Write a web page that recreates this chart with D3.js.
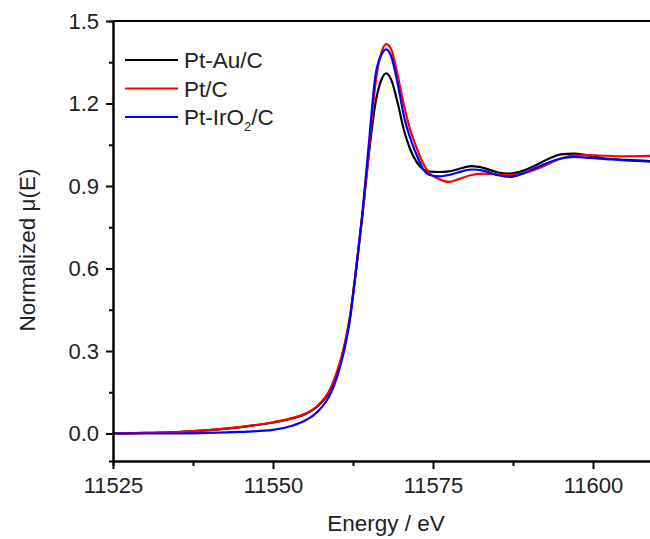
<!DOCTYPE html>
<html>
<head>
<meta charset="utf-8">
<script src="https://cdn.jsdelivr.net/npm/d3@7"></script>
<style>
    body { margin: 0; background: #fff; }
    svg { display: block; font-family: "Liberation Sans", Arial, sans-serif; }
    .axis path, .axis line { stroke: #000; stroke-width: 2; }
    .axis text { font-size: 22px; fill: #222; }
</style>
</head>
<body>
<div class="container"></div>
<script>
const WIDTH = 650,
    HEIGHT = 539,
    LEFT = 113,
    TOP = 21,
    BOTTOM = 461,
    RIGHT = 657;

// energy grid (eV) and normalized mu(E) per sample
const energy = [11525, 11530, 11535, 11540, 11545, 11550, 11553, 11555, 11557, 11559,
    11560, 11561, 11562, 11563, 11564, 11565, 11566, 11567, 11567.7, 11568.5,
    11569.5, 11570.5, 11571.5, 11572.5, 11573.5, 11574.5, 11576, 11577.5, 11579, 11581,
    11583, 11585, 11587, 11589, 11591, 11593, 11595, 11597, 11599, 11602, 11605, 11610];

const ptAuC = [0.0, 0.002, 0.005, 0.012, 0.023, 0.04, 0.055, 0.07, 0.1, 0.16,
    0.22, 0.30, 0.42, 0.60, 0.80, 1.02, 1.20, 1.29, 1.31, 1.285,
    1.20, 1.10, 1.03, 0.985, 0.96, 0.952, 0.951, 0.953, 0.962, 0.972,
    0.965, 0.95, 0.945, 0.955, 0.975, 0.998, 1.015, 1.018, 1.012, 1.0, 0.995, 0.99];

const ptC = [0.0, 0.002, 0.005, 0.012, 0.024, 0.041, 0.056, 0.072, 0.102, 0.165,
    0.225, 0.305, 0.42, 0.60, 0.80, 1.03, 1.27, 1.39, 1.416, 1.395,
    1.30, 1.19, 1.10, 1.035, 0.98, 0.945, 0.925, 0.915, 0.925, 0.94,
    0.945, 0.942, 0.94, 0.945, 0.96, 0.98, 1.0, 1.011, 1.012, 1.01, 1.008, 1.01];

const ptIrO2C = [0.0, 0.0, 0.0, 0.002, 0.006, 0.013, 0.028, 0.047, 0.08, 0.145,
    0.205, 0.29, 0.41, 0.60, 0.81, 1.06, 1.30, 1.38, 1.397, 1.37,
    1.27, 1.15, 1.07, 1.01, 0.96, 0.94, 0.935, 0.94, 0.95, 0.96,
    0.955, 0.94, 0.933, 0.945, 0.965, 0.985, 1.0, 1.006, 1.003, 0.998, 0.993, 0.988];

const seriesNames = ['Pt-Au/C', 'Pt/C', 'Pt-IrO2/C'];
const seriesValues = [ptAuC, ptC, ptIrO2C];
const seriesColors = ['#000000', '#ff0000', '#0000ff'];

const xTicks = [11525, 11550, 11575, 11600];
const xMinorTicks = [11537.5, 11562.5, 11587.5];
const yTicks = [0.0, 0.3, 0.6, 0.9, 1.2, 1.5];
const yMinorTicks = [0.15, 0.45, 0.75, 1.05, 1.35];

const xScale = d3.scaleLinear().domain([11525, 11610]).range([LEFT, RIGHT]);
const yScale = d3.scaleLinear().domain([-0.1, 1.5]).range([BOTTOM, TOP]);

var svg = d3.select('.container').append('svg')
    .attr('width', WIDTH)
    .attr('height', HEIGHT);

svg.append('clipPath').attr('id', 'plot')
    .append('rect')
    .attr('x', LEFT).attr('y', TOP)
    .attr('width', RIGHT - LEFT).attr('height', BOTTOM - TOP);

// curves, drawn black -> red -> blue like the original
var line = d3.line()
    .x((d) => xScale(d[0]))
    .y((d) => yScale(d[1]))
    .curve(d3.curveMonotoneX);

seriesValues.forEach((vals, i) => {
    svg.append('path')
        .attr('clip-path', 'url(#plot)')
        .attr('fill', 'none')
        .attr('stroke', seriesColors[i])
        .attr('stroke-width', 2.2)
        .attr('d', line(energy.map((e, j) => [e, vals[j]])));
});

// axes
svg.append('g')
    .attr('class', 'axis')
    .attr('transform', `translate(0,${BOTTOM})`)
    .call(d3.axisBottom(xScale).tickValues(xMinorTicks).tickSize(5).tickFormat(''));

svg.append('g')
    .attr('class', 'axis')
    .attr('transform', `translate(0,${BOTTOM})`)
    .call(d3.axisBottom(xScale).tickValues(xTicks).tickSize(8).tickPadding(8).tickSizeOuter(0).tickFormat(d3.format('d')));

svg.append('g')
    .attr('class', 'axis')
    .attr('transform', `translate(${LEFT},0)`)
    .call(d3.axisLeft(yScale).tickValues(yMinorTicks).tickSize(4).tickFormat(''));

svg.append('g')
    .attr('class', 'axis')
    .attr('transform', `translate(${LEFT},0)`)
    .call(d3.axisLeft(yScale).tickValues(yTicks).tickSize(7).tickPadding(7).tickSizeOuter(0).tickFormat(d3.format('.1f')));

// top frame line
svg.append('line')
    .attr('x1', LEFT).attr('x2', RIGHT)
    .attr('y1', TOP).attr('y2', TOP)
    .attr('stroke', '#000').attr('stroke-width', 2);

// axis titles
svg.append('text')
    .attr('x', 386)
    .attr('y', 531)
    .attr('text-anchor', 'middle')
    .attr('font-size', 22.5)
    .attr('fill', '#222')
    .text('Energy / eV');

svg.append('text')
    .attr('transform', 'translate(35,250) rotate(-90)')
    .attr('text-anchor', 'middle')
    .attr('font-size', 22.5)
    .attr('fill', '#222')
    .text('Normalized \u03bc(E)');

// legend
var legend = svg.append('g');
seriesNames.forEach((name, i) => {
    var ly = 60 + i * 28.5;
    legend.append('line')
        .attr('x1', 125).attr('x2', 178)
        .attr('y1', ly).attr('y2', ly)
        .attr('stroke', seriesColors[i])
        .attr('stroke-width', 2.2);
    var t = legend.append('text')
        .attr('x', 184)
        .attr('y', ly + 8)
        .attr('font-size', 22.5)
        .attr('fill', '#222');
    if (name === 'Pt-IrO2/C') {
        t.append('tspan').text('Pt-IrO');
        t.append('tspan').attr('dy', 6).attr('font-size', 13).text('2');
        t.append('tspan').attr('dy', -6).text('/C');
    } else {
        t.text(name);
    }
});
</script>
</body>
</html>
